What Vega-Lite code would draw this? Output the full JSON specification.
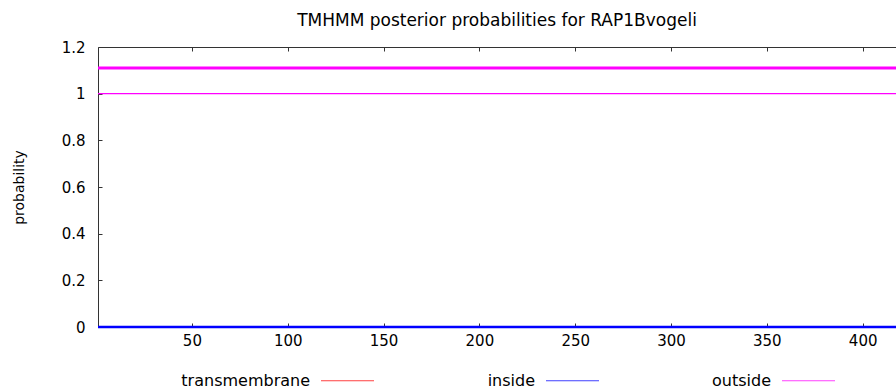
{
  "$schema": "https://vega.github.io/schema/vega-lite/v6.json",
  "width": 798,
  "height": 280,
  "autosize": {"type": "none"},
  "padding": {"left": 98, "top": 47, "right": 0, "bottom": 62},
  "background": "white",
  "title": {
    "text": "TMHMM posterior probabilities for RAP1Bvogeli",
    "font": "DejaVu Sans",
    "fontSize": 17,
    "fontWeight": "normal",
    "color": "#000",
    "anchor": "middle",
    "offset": 10
  },
  "config": {
    "view": {"stroke": null},
    "axis": {
      "labelFont": "DejaVu Sans",
      "labelFontSize": 15,
      "labelColor": "#000",
      "titleFont": "DejaVu Sans",
      "titleFontWeight": "normal",
      "titleColor": "#000",
      "domainColor": "#333",
      "tickColor": "#333",
      "grid": false,
      "tickSize": -4
    }
  },
  "datasets": {
    "probs": [
      {"pos": 1, "prob": 0, "series": "transmembrane"},
      {"pos": 430, "prob": 0, "series": "transmembrane"},
      {"pos": 1, "prob": 0, "series": "inside"},
      {"pos": 430, "prob": 0, "series": "inside"},
      {"pos": 1, "prob": 1, "series": "outside"},
      {"pos": 430, "prob": 1, "series": "outside"}
    ],
    "topology": [
      {"pos": 1, "level": 1.11, "region": "outside"},
      {"pos": 430, "level": 1.11, "region": "outside"}
    ]
  },
  "layer": [
    {
      "data": {"name": "probs"},
      "mark": {"type": "line", "strokeWidth": 1.2},
      "encoding": {
        "x": {
          "field": "pos",
          "type": "quantitative",
          "scale": {"domain": [1, 417.4], "nice": false, "zero": false},
          "axis": {
            "orient": "bottom",
            "title": null,
            "values": [50, 100, 150, 200, 250, 300, 350, 400],
            "labelPadding": 10,
            "labelFlush": false
          }
        },
        "y": {
          "field": "prob",
          "type": "quantitative",
          "scale": {"domain": [0, 1.2], "nice": false},
          "axis": {
            "title": "probability",
            "titleFontSize": 14,
            "titlePadding": 35,
            "values": [0, 0.2, 0.4, 0.6, 0.8, 1, 1.2],
            "format": "~g",
            "labelPadding": 17
          }
        },
        "color": {
          "field": "series",
          "type": "nominal",
          "scale": {
            "domain": ["transmembrane", "inside", "outside"],
            "range": ["#ff0000", "#0000ff", "#ff00ff"]
          },
          "legend": {
            "title": null,
            "orient": "none",
            "legendX": 222,
            "legendY": 306,
            "direction": "horizontal",
            "columns": 3,
            "symbolType": "stroke",
            "symbolSize": 2809,
            "symbolStrokeWidth": 1.2,
            "symbolOpacity": 0.75,
            "labelFont": "DejaVu Sans",
            "labelFontSize": 16,
            "labelColor": "#000",
            "labelAlign": "right",
            "labelOffset": -65,
            "labelLimit": 0,
            "columnPadding": 110,
            "gridAlign": "each"
          }
        },
        "order": {"field": "pos"}
      }
    },
    {
      "data": {"name": "probs"},
      "transform": [{"filter": "datum.series === 'inside'"}],
      "mark": {"type": "line", "strokeWidth": 2.5, "color": "#0000ff"},
      "encoding": {
        "x": {"field": "pos", "type": "quantitative", "axis": null},
        "y": {"field": "prob", "type": "quantitative"}
      }
    },
    {
      "data": {"name": "topology"},
      "mark": {"type": "line", "strokeWidth": 3.2, "color": "#ff00ff"},
      "encoding": {
        "x": {
          "field": "pos",
          "type": "quantitative",
          "axis": {
            "orient": "top",
            "title": null,
            "labels": false,
            "values": [50, 100, 150, 200, 250, 300, 350, 400]
          }
        },
        "y": {"field": "level", "type": "quantitative"}
      }
    }
  ],
  "resolve": {"axis": {"x": "independent"}}
}
